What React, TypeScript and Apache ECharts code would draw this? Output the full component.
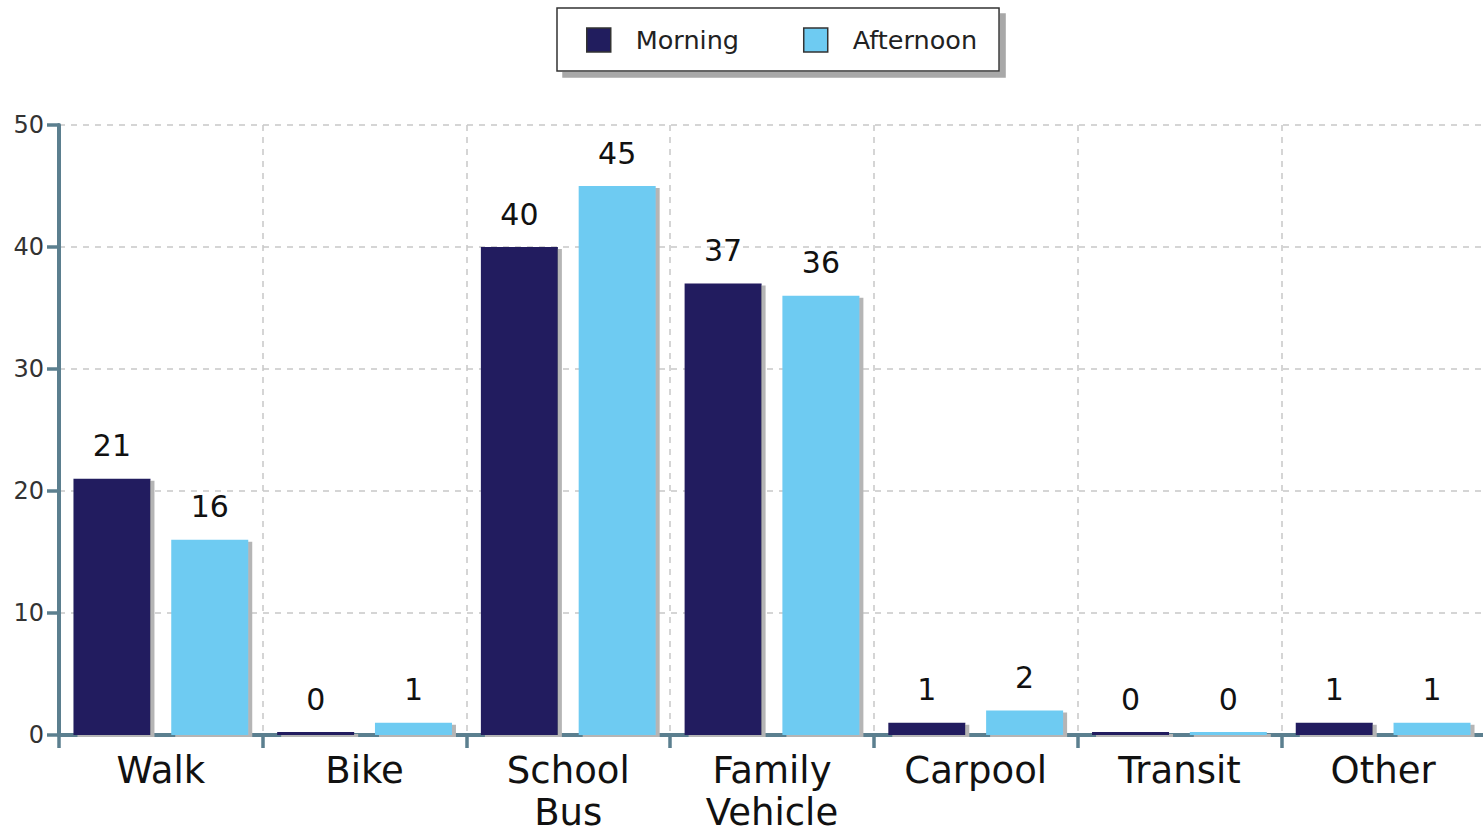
import React, { useEffect, useRef } from "react";
import * as echarts from "echarts";

const categories = ["Walk", "Bike", "School\nBus", "Family\nVehicle", "Carpool", "Transit", "Other"];
const morning = [21, 0, 40, 37, 1, 0, 1];
const afternoon = [16, 1, 45, 36, 2, 0, 1];
const seriesNames = ["Morning", "Afternoon"];

const FONT = "DejaVu Sans";
const AXIS = "#5b7f8f";

export default function App() {
  const ref = useRef<HTMLDivElement>(null);
  useEffect(() => {
    const chart = echarts.init(ref.current!, null, { renderer: "svg" });
    const labelCfg = {
      show: true,
      position: "top" as const,
      distance: 18,
      fontFamily: FONT,
      fontSize: 30,
      color: "#111",
    };
    const barStyle = (color: string) => ({
      color,
      shadowColor: "#b5b5b5",
      shadowOffsetX: 4,
      shadowOffsetY: 2,
      shadowBlur: 0,
    });
    chart.setOption({
      animation: false,
      backgroundColor: "#fff",
      legend: {
        data: seriesNames,
        top: 8,
        left: 557,
        padding: [19, 22, 18, 29],
        itemWidth: 24,
        itemHeight: 24,
        itemGap: 64,
        icon: "rect",
        backgroundColor: "#fff",
        borderColor: "#333",
        borderWidth: 1.5,
        borderRadius: 0,
        shadowColor: "#a8a8a8",
        shadowOffsetX: 6,
        shadowOffsetY: 6,
        shadowBlur: 0,
        textStyle: { fontFamily: FONT, fontSize: 25.5, color: "#222", padding: [0, 0, 0, 20] },
        itemStyle: { borderColor: "#333", borderWidth: 1.5 },
      },
      grid: {
        left: 59,
        right: -2,
        top: 125,
        bottom: 100,
        containLabel: false,
        outerBoundsMode: "none",
      },
      xAxis: {
        type: "category",
        data: categories,
        axisLine: { lineStyle: { color: AXIS, width: 4 } },
        axisTick: { show: true, length: 13, lineStyle: { color: AXIS, width: 3.5 } },
        axisLabel: {
          fontFamily: FONT,
          fontSize: 37,
          color: "#111",
          margin: 14,
          lineHeight: 42,
          interval: 0,
        },
        splitLine: { show: true, lineStyle: { color: "#c8c8c8", type: [6, 6], width: 1.5 } },
      },
      yAxis: {
        type: "value",
        min: 0,
        max: 50,
        interval: 10,
        axisLine: { show: true, lineStyle: { color: AXIS, width: 4 } },
        axisTick: { show: true, length: 12, lineStyle: { color: AXIS, width: 3.5 } },
        axisLabel: { fontFamily: FONT, fontSize: 24, color: "#333", margin: 15 },
        splitLine: { show: true, lineStyle: { color: "#c8c8c8", type: [6, 6], width: 1.5 } },
      },
      series: [
        {
          name: seriesNames[0],
          type: "bar",
          data: morning,
          barWidth: 77,
          barGap: "27%",
          barMinHeight: 3,
          itemStyle: barStyle("#211d5e"),
          label: labelCfg,
        },
        {
          name: seriesNames[1],
          type: "bar",
          data: afternoon,
          barWidth: 77,
          barGap: "27%",
          barMinHeight: 3,
          itemStyle: barStyle("#6ecbf2"),
          label: labelCfg,
        },
      ],
    });
    return () => chart.dispose();
  }, []);
  return (
    <div
      ref={ref}
      style={{ position: "fixed", left: 0, top: 0, width: 1483, height: 835 }}
    />
  );
}
